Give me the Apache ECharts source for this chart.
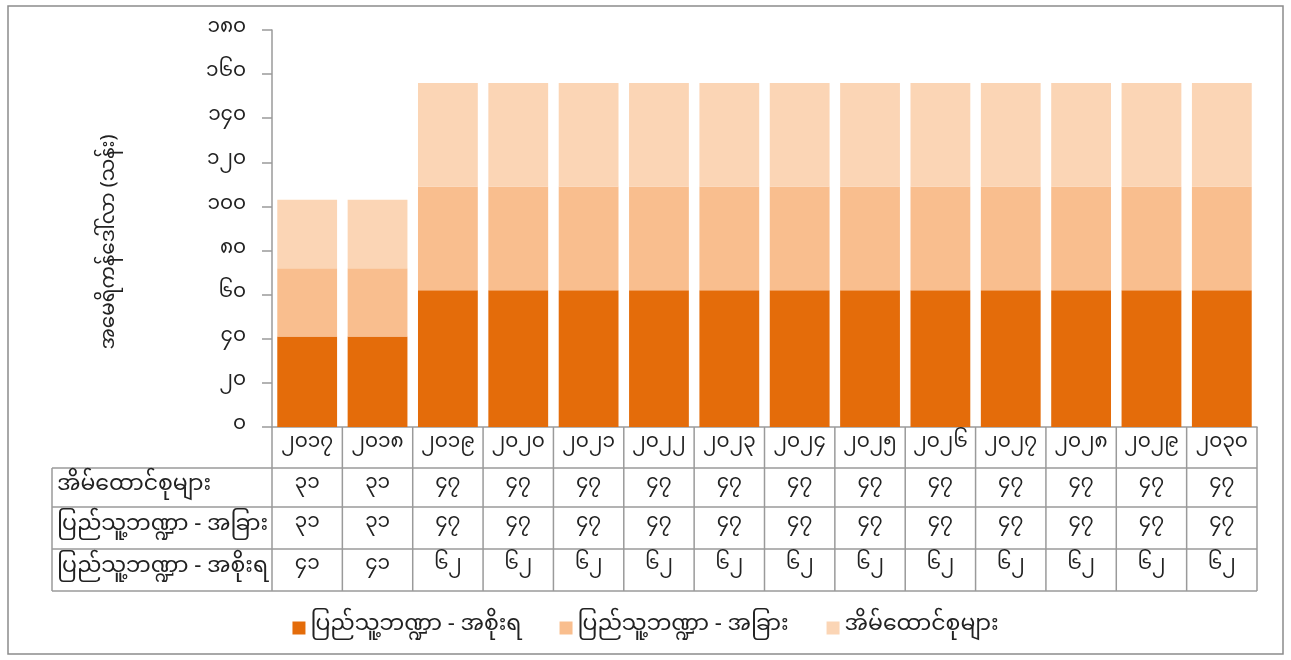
<!DOCTYPE html>
<html>
<head>
<meta charset="utf-8">
<script src="https://cdn.jsdelivr.net/npm/echarts@6/dist/echarts.min.js"></script>
<style>
  html, body { margin: 0; padding: 0; background: #fff; }
  #chart { width: 1291px; height: 660px; }
</style>
</head>
<body>
<div id="chart"></div>
<script>
// ---- data ----
const years = [2017, 2018, 2019, 2020, 2021, 2022, 2023, 2024, 2025, 2026, 2027, 2028, 2029, 2030];
const govt = [41, 41, 62, 62, 62, 62, 62, 62, 62, 62, 62, 62, 62, 62];
const otherPublic = [31, 31, 47, 47, 47, 47, 47, 47, 47, 47, 47, 47, 47, 47];
const households = [31, 31, 47, 47, 47, 47, 47, 47, 47, 47, 47, 47, 47, 47];
const seriesNames = ['ပြည်သူ့ဘဏ္ဍာ - အစိုးရ', 'ပြည်သူ့ဘဏ္ဍာ - အခြား', 'အိမ်ထောင်စုများ'];
const yTicks = [0, 20, 40, 60, 80, 100, 120, 140, 160, 180];
const yAxisTitle = 'အမေရိကန်ဒေါ်လာ (သန်း)';

// table rows (top to bottom)
const tableRows = [
  { name: seriesNames[2], values: households },
  { name: seriesNames[1], values: otherPublic },
  { name: seriesNames[0], values: govt }
];

const colors = ['#E46C0A', '#F9BE8E', '#FBD5B5'];
const FONT = "'Noto Sans Myanmar', 'Noto Serif Myanmar', Padauk, 'Myanmar Text', 'Noto Sans', sans-serif";
const MY_DIGITS = '၀၁၂၃၄၅၆၇၈၉';
function toMy(n) { return String(n).replace(/[0-9]/g, d => MY_DIGITS[+d]); }

// ---- layout ----
const W = 1291, H = 660;
const gridLeft = 272, gridRight = 34, gridTop = 30, axisY = 427;
const rowH = [41, 39, 42, 42];
const tableLeft = 52;
const lineColor = '#9a9a9a';
const textColor = '#222';
const numSize = 20;

const chart = echarts.init(document.getElementById('chart'));

const xAxes = [{
  type: 'category',
  data: years.map(toMy),
  gridIndex: 0,
  position: 'bottom',
  axisLine: { show: true, lineStyle: { color: lineColor, width: 1.5 } },
  axisTick: { show: false },
  axisLabel: { interval: 0, fontSize: numSize, color: textColor, fontFamily: FONT, margin: 8 }
}];
let off = rowH[0];
tableRows.forEach((row, k) => {
  xAxes.push({
    type: 'category',
    data: years.map(toMy),
    gridIndex: 0,
    position: 'bottom',
    offset: off,
    axisLine: { show: false },
    axisTick: { show: false },
    axisLabel: {
      interval: 0, fontSize: numSize, color: textColor, fontFamily: FONT, margin: 8,
      formatter: (v, i) => toMy(row.values[i])
    }
  });
  off += rowH[k + 1];
});

// table decoration lines
const plotRight = W - gridRight;
const band = (plotRight - gridLeft) / years.length;
const graphics = [];
const rowYs = [axisY];
rowH.forEach(h => rowYs.push(rowYs[rowYs.length - 1] + h));
const tableBottom = rowYs[rowYs.length - 1];
for (let r = 1; r < rowYs.length; r++) {
  graphics.push({ type: 'line', silent: true, shape: { x1: tableLeft, y1: rowYs[r], x2: plotRight, y2: rowYs[r] }, style: { stroke: lineColor, lineWidth: 1.5 } });
}
for (let c = 0; c <= years.length; c++) {
  const x = gridLeft + c * band;
  graphics.push({ type: 'line', silent: true, shape: { x1: x, y1: axisY, x2: x, y2: tableBottom }, style: { stroke: lineColor, lineWidth: 1.5 } });
}
graphics.push({ type: 'line', silent: true, shape: { x1: tableLeft, y1: rowYs[1], x2: tableLeft, y2: tableBottom }, style: { stroke: lineColor, lineWidth: 1.5 } });
tableRows.forEach((row, k) => {
  graphics.push({
    type: 'text', silent: true,
    x: tableLeft + 5,
    y: (rowYs[k + 1] + rowYs[k + 2]) / 2,
    style: { text: row.name, fill: textColor, font: '22px ' + FONT, textAlign: 'left', textVerticalAlign: 'middle' }
  });
});
// y-axis title
graphics.push({
  type: 'text', silent: true,
  x: 112, y: 242, rotation: Math.PI / 2,
  style: { text: yAxisTitle, fill: textColor, font: '20px ' + FONT, textAlign: 'center', textVerticalAlign: 'middle' }
});
// outer frame
graphics.push({ type: 'rect', silent: true, shape: { x: 8, y: 6, width: W - 16, height: H - 12 }, style: { fill: 'none', stroke: '#8c8c8c', lineWidth: 1.5 } });

const option = {
  animation: false,
  backgroundColor: '#fff',
  textStyle: { fontFamily: FONT },
  color: colors,
  grid: { left: gridLeft, right: gridRight, top: gridTop, bottom: H - axisY, containLabel: false },
  legend: {
    bottom: 16,
    left: 'center',
    itemWidth: 13, itemHeight: 13, itemGap: 38,
    icon: 'rect',
    textStyle: { fontSize: 22, color: textColor, fontFamily: FONT },
    data: seriesNames
  },
  xAxis: xAxes,
  yAxis: {
    type: 'value',
    min: yTicks[0], max: yTicks[yTicks.length - 1], interval: yTicks[1] - yTicks[0],
    axisLine: { show: true, lineStyle: { color: lineColor, width: 1.5 } },
    axisTick: { show: true, length: 10, lineStyle: { color: lineColor, width: 1.5 } },
    splitLine: { show: false },
    axisLabel: { fontSize: numSize, color: textColor, fontFamily: FONT, margin: 26, formatter: v => toMy(v) }
  },
  series: [
    { name: seriesNames[0], type: 'bar', stack: 'total', data: govt, barCategoryGap: '15%', xAxisIndex: 0 },
    { name: seriesNames[1], type: 'bar', stack: 'total', data: otherPublic, barCategoryGap: '15%', xAxisIndex: 0 },
    { name: seriesNames[2], type: 'bar', stack: 'total', data: households, barCategoryGap: '15%', xAxisIndex: 0 }
  ],
  graphic: graphics
};
chart.setOption(option);
</script>
</body>
</html>
